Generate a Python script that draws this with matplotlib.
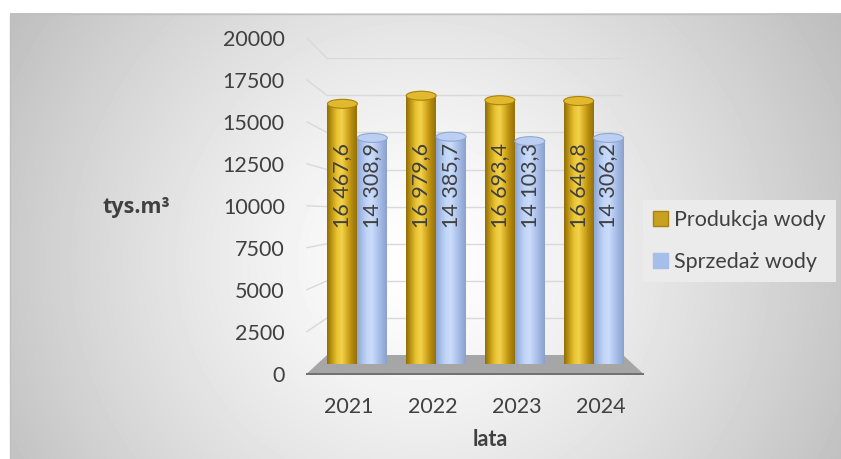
import matplotlib
matplotlib.use("Agg")
import matplotlib.pyplot as plt
import numpy as np
from matplotlib.colors import LinearSegmentedColormap
from matplotlib.patches import Ellipse, Patch, Polygon, Rectangle

years = ["2021", "2022", "2023", "2024"]
produkcja = [16467.6, 16979.6, 16693.4, 16646.8]
sprzedaz = [14308.9, 14385.7, 14103.3, 14306.2]
series_names = ["Produkcja wody", "Sprzedaż wody"]
y_ticks = [0, 2500, 5000, 7500, 10000, 12500, 15000, 17500, 20000]

W, H = 841, 459
TXT = "#404040"
FS = 15.5
plt.rcParams["font.family"] = ["Lato", "DejaVu Sans"]

fig = plt.figure(figsize=(W / 100, H / 100), dpi=100)


def px_axes(x0, x1, y_top, y_bottom, **kw):
    """Axes placed by pixel box (y measured from the top of the image)."""
    return fig.add_axes([x0 / W, 1 - y_bottom / H, (x1 - x0) / W,
                         (y_bottom - y_top) / H], **kw)


# background: radial grey gradient inside a thin border
bg = px_axes(0, W, 0, H, zorder=0)
bg.axis("off")
yy, xx = np.mgrid[13:H:1.0, 10:W:1.0]
r = np.hypot((xx - 420) / 430, (yy - 260) / 420)
shade = 1 - 0.22 * np.clip(r, 0, 1.4) ** 1.3
bg.imshow(shade, cmap="gray", vmin=0, vmax=1, extent=[10, W, H, 13],
          interpolation="bilinear", aspect="auto")
bg.add_patch(Rectangle((10.5, 13.5), W - 10, H, fill=False,
                       edgecolor="#bfbfbf", lw=1))

# back wall with gridlines
back = px_axes(327, 623, 58.3, 355, zorder=1)
back.set_xlim(0, 1)
back.set_ylim(0, 20000)
back.set_facecolor("none")
for v in y_ticks[1:]:
    back.axhline(v, color="#d9d9d9", lw=1)
back.axis("off")

# front plane: carries the tick labels and axis titles
front = px_axes(307, 643, 38, 373.5, zorder=2)
front.set_xlim(-0.5, 3.5)
front.set_ylim(0, 20000)
front.set_facecolor("none")
for s in front.spines.values():
    s.set_visible(False)
front.set_yticks(y_ticks)
front.set_xticks(range(len(years)), years)
front.tick_params(axis="both", length=0, labelsize=FS, labelcolor=TXT)
front.tick_params(axis="y", pad=16)
front.tick_params(axis="x", pad=17)
front.set_ylabel("tys.m³", fontsize=FS, fontweight="bold", color=TXT,
                 family=["Open Sans", "DejaVu Sans"],
                 rotation=0, ha="center", va="center")
front.yaxis.set_label_coords(-0.509, 0.496)
front.set_xlabel("lata", fontsize=FS, fontweight="bold", color=TXT, va="center")
front.xaxis.set_label_coords(0.545, -0.198)


def to_bg(ax, x, y):
    dx, dy = ax.transData.transform((x, y))
    return dx, H - dy


# side edges of the gridlines (front -> back)
for v in y_ticks[1:]:
    (x0, y0), (x1, y1) = to_bg(front, -0.5, v), to_bg(back, 0, v)
    bg.plot([x0, x1], [y0, y1], color="#d9d9d9", lw=1)

# floor
fl = [to_bg(front, -0.5, 0), to_bg(front, 3.5, 0), to_bg(back, 1, 0), to_bg(back, 0, 0)]
bg.add_patch(Polygon(fl, closed=True, facecolor="#a6a6a6", edgecolor="none"))
bg.plot([fl[0][0], fl[1][0]], [fl[0][1], fl[1][1]], color="#6f6f6f", lw=1.4)
bg.set_xlim(0, W)
bg.set_ylim(H, 0)

# cylinders
bars = px_axes(318, 633, 48, 364, zorder=3)
bars.axis("off")

cmaps = [
    LinearSegmentedColormap.from_list("gold", ["#8f6c06", "#c29915", "#e9c333",
                                               "#f3d24e", "#d8ad22", "#b48a0e", "#94700a"]),
    LinearSegmentedColormap.from_list("blue", ["#8ea5d2", "#a9c0ea", "#c2d6f8",
                                               "#cbdcfa", "#b3c8ef", "#9db4df", "#8ba1cc"]),
]
tops = [("#e2b92e", "#a9830c"), ("#bccff2", "#90a8d6")]
width = 0.38
ell_h = 9 * 20000 / 316  # ellipse height: ~9 px
grad = np.linspace(0, 1, 128).reshape(1, -1)

for s, vals in enumerate([produkcja, sprzedaz]):
    for i, v in enumerate(vals):
        xc = i + (s - 0.5) * width
        x0, x1 = xc - width / 2, xc + width / 2
        body = Rectangle((x0, 0), width, v, transform=bars.transData)
        base = Ellipse((xc, 0), width, ell_h, transform=bars.transData)
        for clip in (body, base):
            im = bars.imshow(grad, cmap=cmaps[s], extent=[x0, x1, -ell_h, v],
                             aspect="auto", interpolation="bilinear", zorder=4)
            im.set_clip_path(clip)
        bars.add_patch(Ellipse((xc, v), width, ell_h, facecolor=tops[s][0],
                               edgecolor=tops[s][1], lw=0.8, zorder=5))
        label = f"{v:,.1f}".replace(",", " ").replace(".", ",")
        bars.text(xc, 11300, label, rotation=90, ha="center", va="center",
                  fontsize=FS, color=TXT, zorder=6)
bars.set_xlim(-0.5, 3.5)
bars.set_ylim(0, 20000)

handles = [Patch(facecolor="#c9a020", edgecolor="#a8820c"),
           Patch(facecolor="#a6bfea", edgecolor="#a6bfea")]
leg = fig.legend(handles, series_names, loc="center left",
                 bbox_to_anchor=(643 / W, 1 - 241 / H), fontsize=FS,
                 handlelength=0.7, handleheight=0.7, handletextpad=0.3,
                 labelspacing=1.05, borderpad=0.45, borderaxespad=0,
                 fancybox=False, facecolor="#ebebeb", edgecolor="none",
                 framealpha=1)
for t in leg.get_texts():
    t.set_color(TXT)

fig.savefig("out.png", dpi=100)
